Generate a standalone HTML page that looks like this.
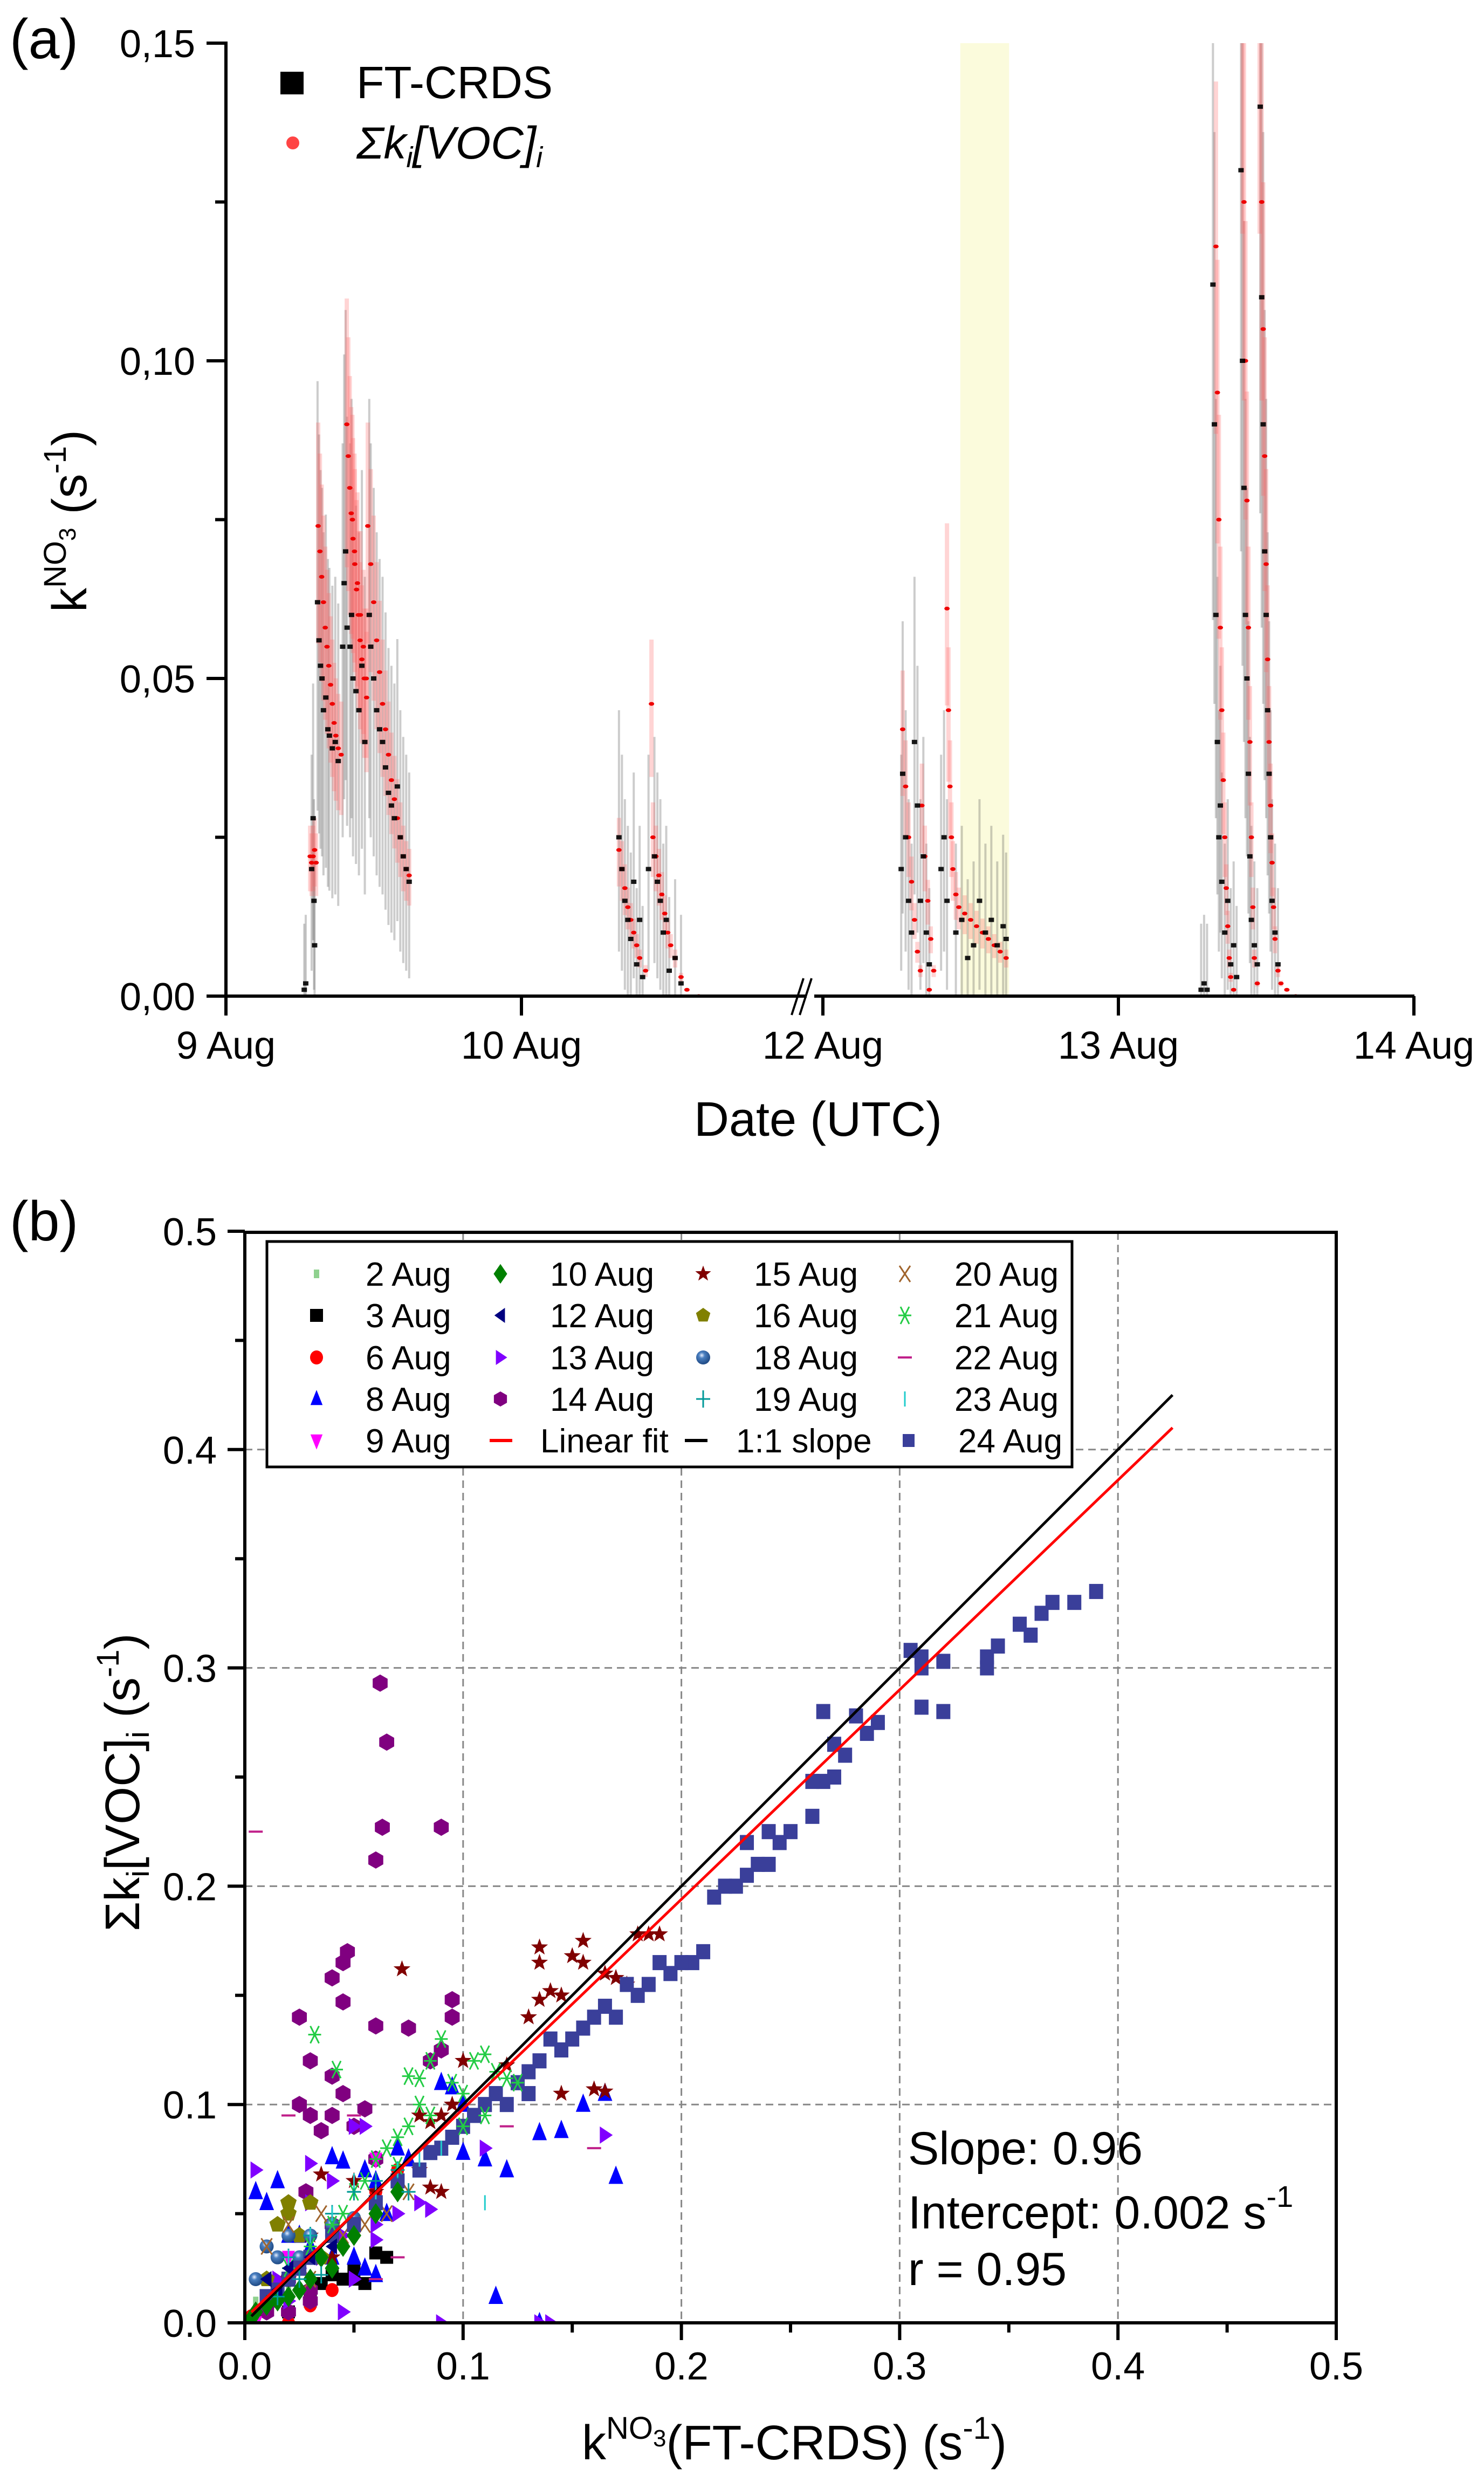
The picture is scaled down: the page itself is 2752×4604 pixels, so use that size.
<!DOCTYPE html>
<html><head><meta charset="utf-8"><style>
html,body{margin:0;padding:0;background:#fff}
svg{display:block;font-family:"Liberation Sans",Arial,sans-serif}
</style></head><body>
<svg id="fig" width="2752" height="4604" viewBox="0 0 2752 4604" xmlns="http://www.w3.org/2000/svg">
<defs>
<clipPath id="clipA"><rect x="419" y="80" width="2206" height="1767"/></clipPath>
<clipPath id="clipB"><rect x="454" y="2285" width="2024" height="2022"/></clipPath>
<radialGradient id="sph" cx="0.4" cy="0.35" r="0.6"><stop offset="0" stop-color="#e8f0ff"/><stop offset="0.35" stop-color="#4a7fc0"/><stop offset="1" stop-color="#234f8a"/></radialGradient>
</defs>
<g id="panelA"></g>
<g id="panelB"></g>
</svg>
<script>
// ---------- Panel (a) data ----------
const redT = [9.285,9.29,9.295,9.30,9.305,9.312,9.318,9.324,9.330,9.336,9.342,9.348,9.354,9.360,9.366,9.372,9.380,9.390,9.409,9.414,9.419,9.424,9.430,9.436,9.442,9.448,9.454,9.460,9.468,9.476,9.428,9.435,9.445,9.455,9.465,9.475,9.48,9.49,9.50,9.51,9.52,9.53,9.54,9.55,9.56,9.57,9.58,9.59,9.60,9.61,9.62,
10.33,10.34,10.35,10.36,10.37,10.38,10.39,10.40,10.42,10.44,10.445,10.455,10.465,10.475,10.485,10.495,10.505,10.52,10.54,10.56,10.60,
12.27,12.28,12.29,12.30,12.31,12.32,12.33,12.36,12.335,12.345,12.355,12.365,12.375,12.42,12.425,12.43,12.435,12.44,12.45,12.46,12.48,12.50,12.52,12.54,12.56,12.58,12.60,12.62,
13.33,13.335,13.34,13.345,13.35,13.355,13.36,13.365,13.37,13.375,13.38,13.39,13.42,13.425,13.43,13.435,13.44,13.445,13.45,13.455,13.46,13.47,13.478,13.485,13.49,13.495,13.50,13.505,13.51,13.515,13.52,13.525,13.53,13.54,13.55,13.57,13.60];
const redV = [.022,.021,.022,.023,.021,.074,.070,.066,.062,.058,.055,.052,.049,.046,.043,.041,.039,.038,.090,.085,.080,.076,.072,.068,.064,.060,.056,.053,.050,.047,.075,.070,.065,.060,.055,.050,.074,.068,.062,.056,.051,.046,.042,.038,.034,.031,.028,.025,.022,.020,.019,
.023,.020,.017,.014,.012,.010,.008,.006,.004,.046,.025,.022,.019,.016,.013,.010,.008,.006,.003,.001,0,
.042,.033,.025,.018,.012,.007,.004,.001,.030,.022,.015,.009,.004,.061,.045,.033,.025,.020,.016,.014,.013,.012,.011,.010,.009,.008,.007,.006,
.118,.095,.075,.058,.045,.034,.025,.017,.011,.006,.003,.001,.160,.125,.100,.078,.058,.040,.025,.014,.006,.002,.160,.125,.105,.085,.068,.053,.040,.030,.021,.014,.009,.004,.002,.001,0];
const blkT = [9.265,9.27,9.29,9.295,9.298,9.30,9.31,9.315,9.32,9.325,9.33,9.338,9.345,9.35,9.36,9.37,9.38,9.395,9.40,9.405,9.41,9.42,9.425,9.43,9.44,9.45,9.46,9.47,9.485,9.49,9.50,9.51,9.52,9.53,9.54,9.55,9.56,9.57,9.58,9.59,9.60,9.61,9.62,
10.33,10.34,10.35,10.36,10.37,10.38,10.39,10.40,10.41,10.43,10.45,10.46,10.47,10.48,10.49,10.50,10.52,10.54,
12.265,12.27,12.28,12.29,12.30,12.31,12.32,12.33,12.34,12.35,12.36,12.40,12.41,12.42,12.45,12.47,12.49,12.51,12.53,12.55,12.57,12.59,12.61,12.62,
13.28,13.29,13.30,13.32,13.325,13.33,13.335,13.34,13.345,13.35,13.36,13.37,13.38,13.39,13.40,13.415,13.42,13.425,13.43,13.435,13.44,13.445,13.45,13.46,13.47,13.48,13.485,13.49,13.495,13.50,13.505,13.51,13.515,13.52,13.53,13.54];
const blkV = [.001,.002,.020,.028,.015,.008,.062,.056,.052,.050,.045,.047,.042,.041,.039,.040,.037,.055,.065,.070,.058,.055,.060,.050,.048,.045,.052,.040,.060,.055,.050,.045,.042,.040,.036,.032,.030,.028,.033,.025,.022,.020,.018,
.025,.020,.015,.012,.009,.018,.005,.012,.003,.020,.022,.018,.015,.010,.012,.004,.006,.002,
.020,.035,.025,.015,.010,.040,.030,.015,.022,.010,.005,.020,.025,.015,.010,.012,.006,.008,.015,.010,.012,.008,.011,.009,
.001,.002,.001,.112,.090,.060,.040,.025,.030,.018,.010,.015,.005,.008,.003,.130,.100,.080,.060,.050,.035,.022,.012,.008,.005,.140,.110,.090,.070,.060,.045,.035,.025,.015,.010,.005];
const aYTicks = [0,0.05,0.10,0.15];
const aYLabels = ["0,00","0,05","0,10","0,15"];
const aXTicks = [9,10,12,13,14];
const aXLabels = ["9 Aug","10 Aug","12 Aug","13 Aug","14 Aug"];
const shadeStart = 12.465, shadeEnd = 12.63;

// ---------- Panel (b) data ----------
const bTicks = [0,0.1,0.2,0.3,0.4,0.5];
const bTickLabels = ["0.0","0.1","0.2","0.3","0.4","0.5"];
const slopeFit = 0.96, interceptFit = 0.002;
const x2Aug=[0.005,0.01,0.02,0.03,0.04], y2Aug=[0.01,0.005,0.015,0.02,0.03];
const x3Aug=[0.06,0.065,0.04,0.045,0.05,0.055,0.035,0.03,0.02,0.05], y3Aug=[0.032,0.03,0.022,0.02,0.02,0.018,0.018,0.01,0.005,0.025];
const x6Aug=[0.003,0.01,0.03,0.04,0.07,0.06,0.02], y6Aug=[0.003,0.005,0.008,0.015,0.07,0.06,0.0];
const x8Aug=[0.09,0.095,0.1,0.135,0.145,0.155,0.165,0.17,0.12,0.11,0.1,0.115,0.135,0.04,0.045,0.055,0.06,0.005,0.01,0.015,0.02,0.025,0.05,0.06,0.055,0.03,0.04,0.065,0.07,0.075];
const y8Aug=[0.11,0.108,0.1,0.087,0.088,0.1,0.105,0.067,0.07,0.075,0.078,0.012,0.0,0.076,0.074,0.07,0.065,0.06,0.055,0.065,0.04,0.04,0.03,0.022,0.025,0.035,0.03,0.05,0.08,0.075];
const x9Aug=[0.0,0.005,0.06,0.02,0.01], y9Aug=[0.0,0.0,0.075,0.03,0.01];
const x10Aug=[0.005,0.01,0.015,0.02,0.025,0.03,0.04,0.035,0.045,0.05,0.06,0.07,0.003], y10Aug=[0.005,0.008,0.01,0.012,0.015,0.02,0.025,0.03,0.035,0.04,0.05,0.06,0.002];
const x12Aug=[0.01,0.02,0.03,0.04,0.015], y12Aug=[0.02,0.025,0.03,0.035,0.015];
const x13Aug=[0.05,0.055,0.005,0.03,0.04,0.165,0.11,0.08,0.085,0.06,0.045,0.035,0.025,0.045,0.09,0.14,0.135,0.015,0.02,0.05,0.06,0.07,0.01,0.03];
const y13Aug=[0.09,0.09,0.07,0.073,0.065,0.086,0.08,0.055,0.052,0.045,0.04,0.03,0.025,0.005,0.0,0.0,0.0,0.02,0.01,0.02,0.038,0.05,0.01,0.055];
const x14Aug=[0.062,0.065,0.063,0.09,0.06,0.047,0.045,0.04,0.045,0.06,0.075,0.095,0.095,0.025,0.03,0.04,0.045,0.025,0.03,0.04,0.055,0.035,0.05,0.085,0.09,0.06,0.02,0.03,0.04,0.028,0.01,0.012,0.03,0.02];
const y14Aug=[0.293,0.266,0.227,0.227,0.212,0.17,0.165,0.158,0.147,0.136,0.135,0.148,0.14,0.14,0.12,0.113,0.105,0.1,0.095,0.095,0.098,0.088,0.09,0.12,0.125,0.075,0.02,0.015,0.045,0.06,0.005,0.01,0.01,0.005];
const x15Aug=[0.135,0.135,0.155,0.15,0.155,0.072,0.18,0.185,0.19,0.165,0.17,0.175,0.14,0.145,0.135,0.13,0.12,0.145,0.16,0.165,0.1,0.095,0.09,0.08,0.085,0.08,0.085,0.09,0.06,0.05,0.035,0.03,0.04,0.02];
const y15Aug=[0.172,0.165,0.175,0.168,0.165,0.162,0.178,0.178,0.178,0.16,0.158,0.155,0.152,0.15,0.148,0.14,0.118,0.105,0.107,0.106,0.12,0.1,0.095,0.095,0.092,0.07,0.062,0.06,0.06,0.065,0.068,0.04,0.03,0.02];
const x16Aug=[0.02,0.02,0.03,0.015,0.025,0.04,0.035,0.01], y16Aug=[0.055,0.05,0.055,0.045,0.04,0.045,0.03,0.02];
const x18Aug=[0.01,0.02,0.03,0.04,0.015,0.025,0.05,0.005], y18Aug=[0.035,0.04,0.04,0.045,0.03,0.03,0.048,0.02];
const x19Aug=[0.02,0.03,0.04,0.05,0.06,0.07,0.075,0.025,0.015,0.035], y19Aug=[0.03,0.04,0.05,0.06,0.065,0.07,0.06,0.02,0.012,0.022];
const x20Aug=[0.01,0.02,0.035,0.045,0.055,0.065,0.075,0.03,0.015], y20Aug=[0.035,0.045,0.05,0.04,0.045,0.05,0.06,0.02,0.015];
const x21Aug=[0.032,0.042,0.09,0.085,0.08,0.075,0.11,0.105,0.115,0.12,0.125,0.095,0.1,0.08,0.085,0.075,0.07,0.065,0.06,0.07,0.055,0.05,0.045,0.04,0.03,0.02,0.1,0.11];
const y21Aug=[0.132,0.116,0.13,0.12,0.112,0.113,0.123,0.12,0.115,0.112,0.11,0.11,0.105,0.1,0.095,0.09,0.085,0.08,0.075,0.072,0.065,0.06,0.05,0.045,0.035,0.025,0.09,0.095];
const x22Aug=[0.005,0.02,0.16,0.12,0.05,0.03,0.07,0.06,0.04], y22Aug=[0.225,0.095,0.08,0.09,0.095,0.03,0.03,0.02,0.04];
const x23Aug=[0.11,0.05,0.04,0.06,0.03,0.07,0.08,0.02,0.09], y23Aug=[0.055,0.065,0.05,0.06,0.04,0.07,0.075,0.03,0.08];
const x24Aug=[0.39,0.38,0.37,0.365,0.36,0.355,0.34,0.345,0.34,0.32,0.31,0.305,0.31,0.32,0.31,0.29,0.285,0.28,0.27,0.275,0.265,0.27,0.265,0.26,0.26,0.25,0.245,0.24,0.235,0.23,0.225,0.22,0.215,0.21,0.205,0.2,0.195,0.19,0.185,0.18,0.175,0.17,0.165,0.16,0.155,0.15,0.145,0.14,0.135,0.13,0.13,0.125,0.12,0.115,0.11,0.105,0.1,0.095,0.09,0.085,0.08,0.07,0.06,0.05,0.04,0.03,0.025,0.02,0.015,0.01,0.24,0.23];
const y24Aug=[0.335,0.33,0.33,0.325,0.315,0.32,0.305,0.31,0.30,0.303,0.305,0.308,0.30,0.28,0.282,0.275,0.27,0.278,0.265,0.26,0.28,0.25,0.248,0.248,0.232,0.225,0.22,0.21,0.21,0.205,0.20,0.20,0.195,0.17,0.165,0.165,0.16,0.165,0.155,0.15,0.155,0.14,0.145,0.14,0.135,0.13,0.125,0.13,0.12,0.115,0.105,0.11,0.10,0.105,0.10,0.095,0.09,0.085,0.08,0.078,0.07,0.065,0.055,0.045,0.04,0.03,0.025,0.02,0.015,0.012,0.225,0.22];

// ---------- helpers ----------
const NS = "http://www.w3.org/2000/svg";
function mk(parent, tag, attrs, text) {
  const e = document.createElementNS(NS, tag);
  for (const k in attrs) e.setAttribute(k, attrs[k]);
  if (text !== undefined) e.textContent = text;
  parent.appendChild(e);
  return e;
}
const A_X0 = 419, A_DAY = 548, A_X12 = 1526, A_Y0 = 1847, A_YPER = 589 / 0.05;
function ax(d) { return d < 11.5 ? A_X0 + (d - 9) * A_DAY : A_X12 + (d - 12) * A_DAY; }
function ay(v) { return A_Y0 - v * A_YPER; }
const B_X0 = 454, B_Y0 = 4307, B_PER = 4048;
function bx(v) { return B_X0 + v * B_PER; }
function by(v) { return B_Y0 - v * B_PER; }

// ================= PANEL A =================
const pa = document.getElementById('panelA');
const shade = mk(pa, 'rect', {x: ax(shadeStart), y: 80, width: ax(shadeEnd) - ax(shadeStart), height: A_Y0 - 80, fill: '#fbfbdc'});



const dataA = mk(pa, 'g', {'clip-path': 'url(#clipA)'});


for (let i = 0; i < blkT.length; i++) {
  const v = blkV[i], x = ax(blkT[i]);
  const l = mk(dataA, 'line', {x1: x, x2: x, y1: ay(Math.max(0, v - v * 0.4 - 0.008)), y2: ay(v + v * 0.4 + 0.01), stroke: '#555', 'stroke-opacity': 0.3, 'stroke-width': 4});
  
  
}
for (let i = 0; i < redT.length; i++) {
  const v = redV[i], x = ax(redT[i]);
  const l = mk(dataA, 'line', {x1: x, x2: x, y1: ay(Math.max(0, v * 0.75)), y2: ay(v * 1.22), stroke: '#f66', 'stroke-opacity': 0.28, 'stroke-width': 8});
  
  
}
for (let i = 0; i < redT.length; i++) {
  const c = mk(dataA, 'ellipse', {cx: ax(redT[i]), cy: ay(redV[i]), rx: 5, ry: 3.5, fill: '#e00'});
  
  
}
for (let i = 0; i < blkT.length; i++) {
  const r = mk(dataA, 'rect', {x: ax(blkT[i]) - 5, y: ay(blkV[i]) - 4, width: 10, height: 8, fill: '#000', 'fill-opacity': 0.9});
  
  
}
const axA = mk(pa, 'g', {stroke: '#000', 'stroke-width': 6, fill: 'none'});


mk(axA, 'line', {x1: A_X0, y1: 77, x2: A_X0, y2: A_Y0 + 3});
mk(axA, 'line', {x1: A_X0 - 3, y1: A_Y0, x2: 1496, y2: A_Y0});
mk(axA, 'line', {x1: 1510, y1: A_Y0, x2: 2623, y2: A_Y0});
mk(axA, 'line', {x1: 1468, y1: A_Y0 + 35, x2: 1490, y2: A_Y0 - 33, 'stroke-width': 4});
mk(axA, 'line', {x1: 1483, y1: A_Y0 + 35, x2: 1505, y2: A_Y0 - 33, 'stroke-width': 4});
for (let i = 0; i < aYTicks.length; i++) {
  const y = ay(aYTicks[i]);
  mk(axA, 'line', {x1: A_X0 - 36, y1: y, x2: A_X0, y2: y});
  const t = mk(pa, 'text', {x: 362, y: y + 26, 'font-size': 72, 'text-anchor': 'end'}, aYLabels[i]);
  
  
}
for (let v = 0.025; v < 0.15; v += 0.05) mk(axA, 'line', {x1: A_X0 - 20, y1: ay(v), x2: A_X0, y2: ay(v)});
for (let i = 0; i < aXTicks.length; i++) {
  const x = ax(aXTicks[i]);
  mk(axA, 'line', {x1: x, y1: A_Y0, x2: x, y2: A_Y0 + 36});
  const t = mk(pa, 'text', {x: x, y: 1963, 'font-size': 72, 'text-anchor': 'middle'}, aXLabels[i]);
  
  
}
</script>
<script>
(function(){
const pa = document.getElementById('panelA');
pa.insertAdjacentHTML('beforeend',
`<text x="18" y="108" font-size="104">(a)</text>
<text x="1517" y="2106" font-size="90" text-anchor="middle">Date (UTC)</text>
<text transform="translate(160,966) rotate(-90)" font-size="90" text-anchor="middle">k<tspan font-size="58" dy="-38">NO</tspan><tspan font-size="44" dy="18">3</tspan><tspan dy="20"> (s</tspan><tspan font-size="58" dy="-38">-1</tspan><tspan dy="38">)</tspan></text>
<rect x="520" y="133" width="43" height="42" fill="#000"/>
<text x="661" y="182" font-size="84">FT-CRDS</text>
<circle cx="543" cy="265" r="12" fill="#f44"/>
<text x="661" y="294" font-size="84" font-style="italic">Σk<tspan font-size="54" dy="16">i</tspan><tspan dy="-16">[VOC]</tspan><tspan font-size="54" dy="16">i</tspan></text>`);
})();
</script>
<script>
// ================= PANEL B =================
const pb = document.getElementById('panelB');
const gridB = mk(pb, 'g', {stroke: '#888', 'stroke-width': 3, 'stroke-dasharray': '14 9'});


for (let i = 1; i < bTicks.length - 1; i++) {
  mk(gridB, 'line', {x1: bx(bTicks[i]), x2: bx(bTicks[i]), y1: 2285, y2: B_Y0});
  mk(gridB, 'line', {x1: B_X0, x2: 2478, y1: by(bTicks[i]), y2: by(bTicks[i])});
}
const dB = mk(pb, 'g', {'clip-path': 'url(#clipB)'});



function marker(g, kind, x, y, s) {
  let e;
  const poly = (pts, fill) => mk(g, 'polygon', {points: pts.map(p => (x + p[0] * s) + ',' + (y + p[1] * s)).join(' '), fill: fill});
  const reg = (n, rot, fill) => { const p = []; for (let k = 0; k < n; k++) { const a = rot + k * 2 * Math.PI / n; p.push([Math.cos(a), Math.sin(a)]); } return poly(p, fill); };
  switch (kind) {
    case 'sq2': e = mk(g, 'rect', {x: x - 5, y: y - 8, width: 10, height: 16, fill: '#8fd18f'}); break;
    case 'sq3': e = mk(g, 'rect', {x: x - 12, y: y - 12, width: 24, height: 24, fill: '#000'}); break;
    case 'circ': e = mk(g, 'ellipse', {cx: x, cy: y, rx: 12, ry: 13, fill: '#f00'}); break;
    case 'tup': e = poly([[0, -1.2], [0.8, 0.8], [-0.8, 0.8]], '#00f'); break;
    case 'tdn': e = poly([[-0.8, -0.8], [0.8, -0.8], [0, 1.2]], '#f0f'); break;
    case 'dia': e = poly([[0, -1.3], [0.9, 0], [0, 1.3], [-0.9, 0]], '#008000'); break;
    case 'tl': e = poly([[-0.8, 0], [0.6, -1], [0.6, 1]], '#000080'); break;
    case 'tr': e = poly([[0.9, 0], [-0.6, -1], [-0.6, 1]], '#8000ff'); break;
    case 'hex': e = reg(6, Math.PI / 2, '#800080'); break;
    case 'star': { const p = []; for (let k = 0; k < 10; k++) { const a = -Math.PI / 2 + k * Math.PI / 5, r = k % 2 ? 0.45 : 1.1; p.push([r * Math.cos(a), r * Math.sin(a)]); } e = poly(p, '#800000'); break; }
    case 'pent': e = reg(5, -Math.PI / 2, '#808000'); break;
    case 'sph': e = mk(g, 'circle', {cx: x, cy: y, r: 13, fill: 'url(#sph)'}); break;
    case 'plus': e = mk(g, 'path', {d: `M${x - 13} ${y}H${x + 13}M${x} ${y - 16}V${y + 16}`, stroke: '#009999', 'stroke-width': 3, fill: 'none'}); break;
    case 'cross': e = mk(g, 'path', {d: `M${x - 10} ${y - 15}L${x + 10} ${y + 15}M${x + 10} ${y - 15}L${x - 10} ${y + 15}`, stroke: '#a0642c', 'stroke-width': 3, fill: 'none'}); break;
    case 'ast': e = mk(g, 'path', {d: `M${x - 12} ${y}H${x + 12}M${x - 8} ${y - 16}L${x + 8} ${y + 16}M${x + 8} ${y - 16}L${x - 8} ${y + 16}`, stroke: '#22cc44', 'stroke-width': 3, fill: 'none'}); break;
    case 'dash': e = mk(g, 'line', {x1: x - 13, x2: x + 13, y1: y, y2: y, stroke: '#c0208a', 'stroke-width': 4}); break;
    case 'vt': e = mk(g, 'line', {x1: x, x2: x, y1: y - 14, y2: y + 14, stroke: '#22cccc', 'stroke-width': 3}); break;
    case 'sq24': e = mk(g, 'rect', {x: x - 13, y: y - 14, width: 26, height: 28, fill: '#3a3f9a'}); break;
  }
  return e;
}
const groups = [
  ['2-aug', 'sq2', x2Aug, y2Aug, 14], ['3-aug', 'sq3', x3Aug, y3Aug, 14], ['6-aug', 'circ', x6Aug, y6Aug, 14],
  ['14-aug', 'hex', x14Aug, y14Aug, 16], ['8-aug', 'tup', x8Aug, y8Aug, 17], ['9-aug', 'tdn', x9Aug, y9Aug, 15],
  ['13-aug', 'tr', x13Aug, y13Aug, 16], ['15-aug', 'star', x15Aug, y15Aug, 15], ['16-aug', 'pent', x16Aug, y16Aug, 16],
  ['18-aug', 'sph', x18Aug, y18Aug, 14], ['20-aug', 'cross', x20Aug, y20Aug, 14], ['22-aug', 'dash', x22Aug, y22Aug, 14],
  ['24-aug', 'sq24', x24Aug, y24Aug, 14], ['21-aug', 'ast', x21Aug, y21Aug, 14], ['10-aug', 'dia', x10Aug, y10Aug, 15],
  ['12-aug', 'tl', x12Aug, y12Aug, 15], ['19-aug', 'plus', x19Aug, y19Aug, 14], ['23-aug', 'vt', x23Aug, y23Aug, 14]
];
for (const [name, kind, xs, ys, s] of groups) {
  const g = mk(dB, 'g', {});
  
  
  for (let i = 0; i < xs.length; i++) {
    const m = marker(g, kind, bx(xs[i]), by(ys[i]), s);
    
    
  }
}
const oneLine = mk(dB, 'line', {x1: bx(0.003), y1: by(0.003), x2: bx(0.425), y2: by(0.425), stroke: '#000', 'stroke-width': 5});


const fitLine = mk(dB, 'line', {x1: bx(0.003), y1: by(slopeFit * 0.003 + interceptFit), x2: bx(0.425), y2: by(slopeFit * 0.425 + interceptFit), stroke: '#f00', 'stroke-width': 5});



const axB = mk(pb, 'g', {stroke: '#000', 'stroke-width': 6, fill: 'none'});


mk(axB, 'rect', {x: B_X0, y: 2285, width: 2024, height: 2022});
for (let i = 0; i < bTicks.length; i++) {
  const x = bx(bTicks[i]), y = by(bTicks[i]);
  mk(axB, 'line', {x1: x, y1: B_Y0, x2: x, y2: B_Y0 + 32});
  mk(axB, 'line', {x1: B_X0 - 32, y1: y, x2: B_X0, y2: y});
  if (i < bTicks.length - 1) {
    const xm = bx(bTicks[i] + 0.05), ym = by(bTicks[i] + 0.05);
    mk(axB, 'line', {x1: xm, y1: B_Y0, x2: xm, y2: B_Y0 + 18});
    mk(axB, 'line', {x1: B_X0 - 18, y1: ym, x2: B_X0, y2: ym});
  }
  const tx = mk(pb, 'text', {x: x, y: 4412, 'font-size': 72, 'text-anchor': 'middle'}, bTickLabels[i]);
  
  
  const ty = mk(pb, 'text', {x: 402, y: y + 26, 'font-size': 72, 'text-anchor': 'end'}, bTickLabels[i]);
  
  
}
</script>
<script>
(function(){
const pb = document.getElementById('panelB');
const rows = [2384, 2461, 2539, 2616, 2693];
const ccx = [587, 928, 1304, 1678];
const txs = [678, 1020, 1398, 1770];
const labels = [["2 Aug","3 Aug","6 Aug","8 Aug","9 Aug"],["10 Aug","12 Aug","13 Aug","14 Aug",null],["15 Aug","16 Aug","18 Aug","19 Aug",null],["20 Aug","21 Aug","22 Aug","23 Aug",null]];
const kinds = [["sq2","sq3","circ","tup","tdn"],["dia","tl","tr","hex",null],["star","pent","sph","plus",null],["cross","ast","dash","vt",null]];
const lg = mk(pb, 'g', {});


mk(lg, 'rect', {x: 495, y: 2302, width: 1493, height: 418, fill: '#fff', stroke: '#000', 'stroke-width': 5});
for (let c = 0; c < 4; c++) for (let r = 0; r < 5; r++) {
  if (!labels[c][r]) continue;
  const m = marker(lg, kinds[c][r], ccx[c], rows[r] - 22, 14);
  
  
  const t = mk(lg, 'text', {x: txs[c], y: rows[r], 'font-size': 62}, labels[c][r]);
  
  
}
pb.insertAdjacentHTML('beforeend',
`<line x1="908" y1="2671" x2="950" y2="2671" stroke="#f00" stroke-width="6"/>
<text x="1002" y="2693" font-size="62">Linear fit</text>
<line x1="1270" y1="2671" x2="1312" y2="2671" stroke="#000" stroke-width="6"/>
<text x="1365" y="2693" font-size="62">1:1 slope</text>
<rect x="1674" y="2659" width="22" height="24" fill="#3a3f9a"/>
<text x="1777" y="2693" font-size="62">24 Aug</text>
<text x="1684" y="4013" font-size="86">Slope: 0.96</text>
<text x="1684" y="4132" font-size="86">Intercept: 0.002 s<tspan font-size="56" dy="-40">-1</tspan></text>
<text x="1684" y="4237" font-size="86">r = 0.95</text>
<text x="18" y="2300" font-size="104">(b)</text>
<text x="1473" y="4560" font-size="90" text-anchor="middle">k<tspan font-size="58" dy="-38">NO</tspan><tspan font-size="44" dy="14">3</tspan><tspan dy="24">(FT-CRDS) (s</tspan><tspan font-size="58" dy="-38">-1</tspan><tspan dy="38">)</tspan></text>
<text transform="translate(258,3305) rotate(-90)" font-size="90" text-anchor="middle">Σk<tspan font-size="58" dy="18">i</tspan><tspan dy="-18">[VOC]</tspan><tspan font-size="58" dy="18">i</tspan><tspan dy="-18"> (s</tspan><tspan font-size="58" dy="-38">-1</tspan><tspan dy="38">)</tspan></text>`);
})();
</script>
</body></html>
